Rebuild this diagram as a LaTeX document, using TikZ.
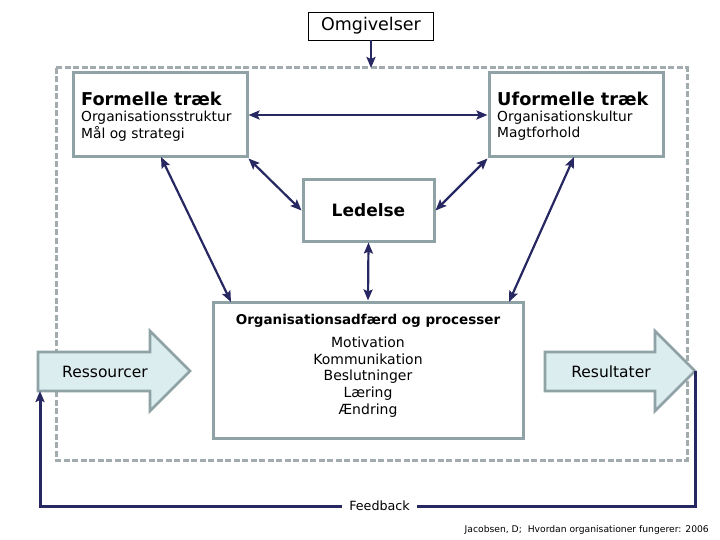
\documentclass[tikz,border=0pt]{standalone}
\usepackage{fontspec}
\setmainfont{DejaVu Sans}
\usetikzlibrary{arrows.meta}
\definecolor{navy}{HTML}{272762}
\definecolor{boxgray}{HTML}{8FA2A6}
\definecolor{dashgray}{HTML}{A2ACAF}
\definecolor{arrfill}{HTML}{DCEDEF}
\tikzset{
  gbox/.style={draw=boxgray, line width=3pt, fill=white, inner sep=0pt},
  conn/.style={draw=navy, line width=2.2pt, {Stealth[length=11pt,width=9pt,inset=2pt]}-{Stealth[length=11pt,width=9pt,inset=2pt]}},
  oneway/.style={draw=navy, line width=2.2pt, -{Stealth[length=11pt,width=9pt,inset=2pt]}},
  fat/.style={draw=boxgray, line width=2.6pt, fill=arrfill, line join=miter},
  t/.style={inner sep=0pt, text=black},
}
\begin{document}
\begin{tikzpicture}[x=1pt,y=-1pt]
\useasboundingbox (0,0) rectangle (720,540);
% environment dashed frame
\draw[dashgray, line width=3pt, dash pattern=on 6pt off 2.5pt] (56,68) rectangle (687,460);

% boxes
\node[draw=black, line width=0.8pt, fill=white, minimum width=125pt, minimum height=28pt, inner sep=0pt, font=\fontsize{17.5}{20}\selectfont] (omg) at (371,26) {Omgivelser};
\node[gbox, minimum width=174pt, minimum height=84pt] (form) at (160,115) {};
\node[gbox, minimum width=174pt, minimum height=84pt] (uform) at (576,115) {};
\node[gbox, minimum width=131pt, minimum height=61pt, font=\fontsize{17}{20}\selectfont\bfseries] (led) at (368.5,210.5) {Ledelse};
\node[gbox, minimum width=310pt, minimum height=136pt] (org) at (368,370) {};

% texts in boxes
\node[t, anchor=west, font=\fontsize{17.7}{21}\selectfont\bfseries] (formT) at (81,99) {Formelle træk};
\node[t, anchor=west, font=\fontsize{13.8}{16}\selectfont] (formA) at (81,118) {Organisationsstruktur};
\node[t, anchor=west, font=\fontsize{13.8}{16}\selectfont] (formB) at (81,134) {Mål og strategi};
\node[t, anchor=west, font=\fontsize{17.7}{21}\selectfont\bfseries] (uformT) at (497,99) {Uformelle træk};
\node[t, anchor=west, font=\fontsize{13.8}{16}\selectfont] (uformA) at (497,118) {Organisationskultur};
\node[t, anchor=west, font=\fontsize{13.8}{16}\selectfont] (uformB) at (497,134) {Magtforhold};
\node[t, font=\fontsize{13.5}{16}\selectfont\bfseries] (orgT) at (368,321) {Organisationsadfærd og processer};
\node[t, align=center, font=\fontsize{14}{16.8}\selectfont] (orgL) at (368,377) {Motivation\\Kommunikation\\Beslutninger\\Læring\\Ændring};

% connectors
\coordinate (envtop) at (371,68);
\draw[oneway] (omg.south) -- (envtop);
\draw[conn] (form.east) -- (uform.west);
\draw[conn] (form.south east) -- (led.west);
\draw[conn] (uform.south west) -- (led.east);
\draw[conn] (led.south) -- (org.north);
\draw[conn] (161,157) -- (231,302);
\draw[conn] (574,157) -- (509,302);

% resources / results arrows
\coordinate (resTip) at (190,371);
\coordinate (resBL) at (38,391);
\draw[fat] (38,352) -- (150,352) -- (150,331) -- (resTip) -- (150,411) -- (150,391) -- (resBL) -- cycle;
\node[t, font=\fontsize{15.5}{18}\selectfont] (res) at (105,372) {Ressourcer};
\coordinate (rsTip) at (695,371);
\draw[fat] (545,352) -- (655,352) -- (655,331) -- (rsTip) -- (655,411) -- (655,391) -- (545,391) -- cycle;
\node[t, font=\fontsize{15.5}{18}\selectfont] (rs) at (611,372) {Resultater};

% feedback loop
\coordinate (fbR) at (695,506);
\coordinate (fbL) at (40,506);
\draw[navy, line width=3pt, line join=miter, -{Stealth[length=11pt,width=9pt,inset=2pt]}] (rsTip) -- (fbR) -- (fbL) -- (resBL -| fbL);
\node[fill=white, inner xsep=7pt, inner ysep=2pt, font=\fontsize{12.7}{15}\selectfont] (fb) at (379.5,506) {Feedback};

% citation
\node[t, anchor=east, font=\fontsize{9.2}{11}\selectfont] (cite) at (709,530) {Jacobsen, D;\ \ Hvordan organisationer fungerer: 2006};
\end{tikzpicture}
\end{document}
